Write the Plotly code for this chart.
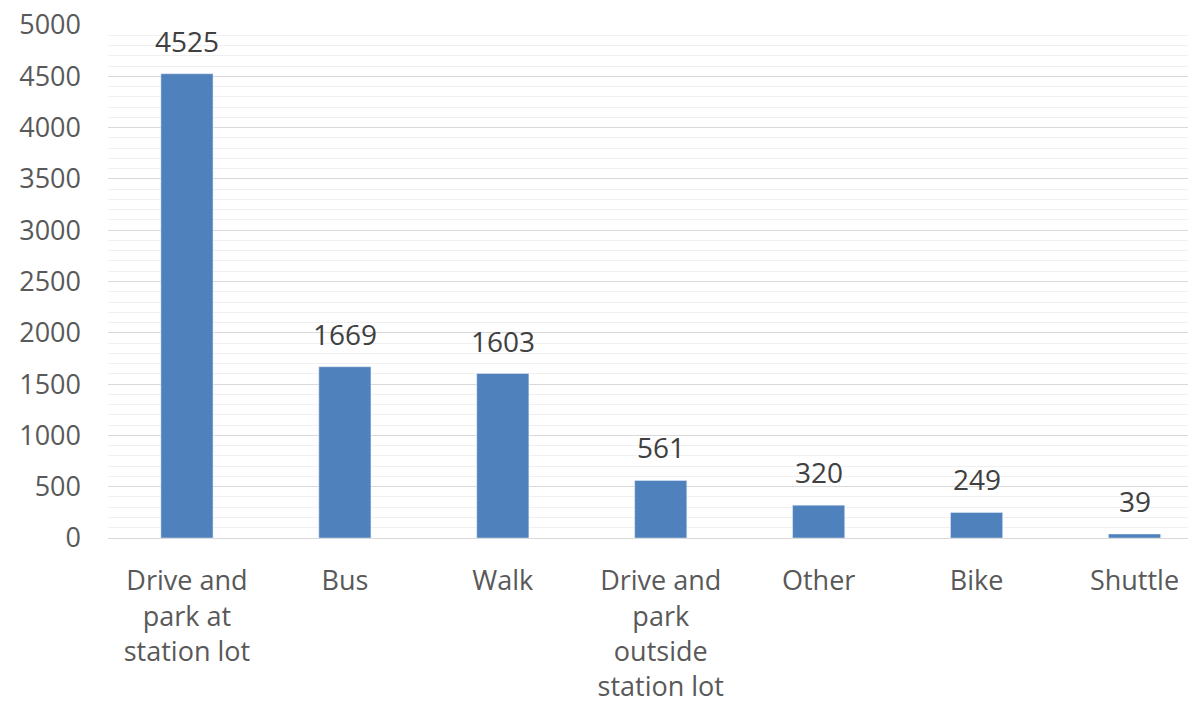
import plotly.graph_objects as go

modes = ["Drive and<br>park at<br>station lot", "Bus", "Walk",
         "Drive and<br>park<br>outside<br>station lot", "Other", "Bike", "Shuttle"]
counts = [4525, 1669, 1603, 561, 320, 249, 39]

fig = go.Figure(go.Bar(
    x=list(range(len(modes))),
    y=counts,
    marker_color="#4f81bd",
    hoverinfo="x+y",
))

# value labels sitting above each bar
for i, v in enumerate(counts):
    fig.add_annotation(x=i, y=v, text=str(v), showarrow=False,
                       yanchor="bottom", yshift=12,
                       font=dict(size=28, color="#404040"))

fig.update_layout(
    width=1196, height=711,
    margin=dict(l=100, r=0, t=17, b=181, autoexpand=False),
    paper_bgcolor="white", plot_bgcolor="white",
    font=dict(family="Open Sans, Calibri, sans-serif", size=27, color="#595959"),
    bargap=0.67,
    showlegend=False,
)
fig.update_xaxes(
    tickvals=list(range(len(modes))), ticktext=modes,
    range=[-0.5, 6.44], showgrid=False, ticks="",
    showline=True, linecolor="#d9d9d9", linewidth=1,
    ticklabelstandoff=19, tickangle=0, automargin=False,
)
fig.update_yaxes(
    range=[0, 5000], dtick=500, tick0=0,
    gridcolor="#d9d9d9", gridwidth=1,
    minor=dict(dtick=100, showgrid=True, gridcolor="#f0f0f0", gridwidth=1),
    zeroline=False, ticks="", ticklabelstandoff=26, automargin=False,
    ticklabeloverflow="allow", tickfont=dict(size=27),
)

fig.write_html("out.html")
